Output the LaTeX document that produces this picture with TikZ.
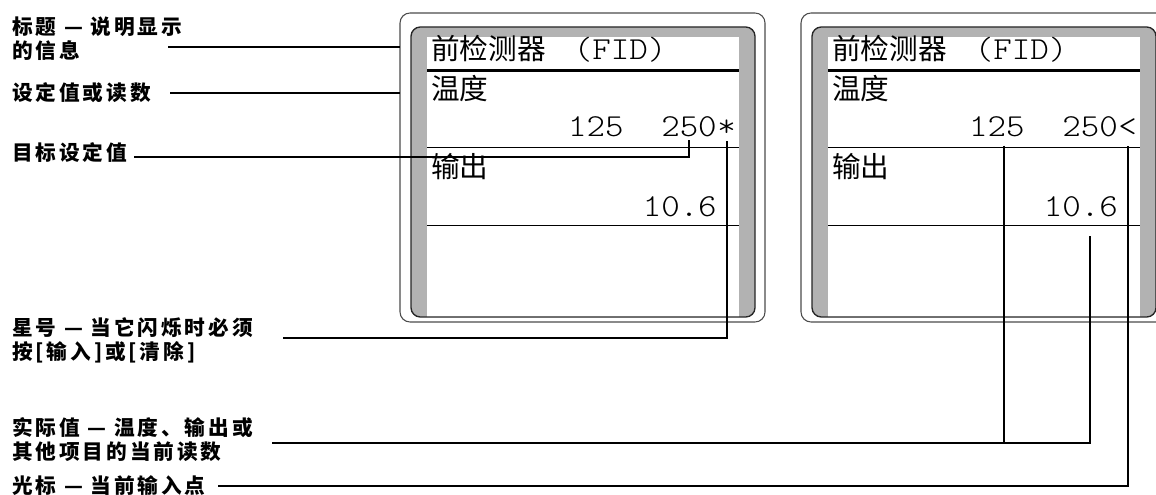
\documentclass[tikz,border=0pt]{standalone}
\usepackage{fontspec}
\newfontfamily\lcdfont{lmmonolt10-regular.otf}[FakeStretch=1.1]
\newfontfamily\cjk{Noto Sans CJK SC}
\newfontfamily\lblfont[LetterSpace=14]{Noto Sans CJK SC}
\usetikzlibrary{positioning}
\begin{document}
\begin{tikzpicture}
		[x=0.75pt,y=-0.75pt,
		lbl/.style={anchor=west,align=left,inner sep=0pt,
			font=\lblfont\bfseries\fontsize{15.5}{18}\selectfont},
		conn/.style={line width=1.5pt},
		mono/.style={inner sep=0pt,font=\lcdfont\fontsize{24}{28}\selectfont},
		scr/.style={inner sep=0pt,font=\cjk\fontsize{21.5}{24}\selectfont},
		caseframe/.style={draw=black!70,line width=0.8pt,rounded corners=7.5pt},
		bezel/.style={draw=black!85,line width=1pt,rounded corners=7pt}
		]
		\useasboundingbox (0,0) rectangle (1156,495);
		\clip (0,0) rectangle (1156,495);
		\foreach \dx/\id/\mk in {0/a/*,401/b/<} {
			\draw[caseframe] (400+\dx,13) rectangle (765+\dx,322);
			\coordinate (frame\id) at (400+\dx,13);
			\fill[black!30,rounded corners=7pt] (411+\dx,27) rectangle (755+\dx,317);
			\fill[white] (427+\dx,37) rectangle (739+\dx,316.5);
			\draw[bezel] (411+\dx,27) rectangle (755+\dx,317);
			\draw[line width=2.25pt] (427+\dx,71) -- (739+\dx,71);
			\draw[line width=0.75pt] (427+\dx,148) -- (739+\dx,148);
			\draw[line width=0.75pt] (427+\dx,226) -- (739+\dx,226);
			\node[scr,anchor=base west] (title\id) at (431+\dx,60)
				{前检测器\hspace{21pt}{\lcdfont\fontsize{24}{28}\selectfont(FID)}};
			\node[scr,anchor=base west] (temp\id) at (431+\dx,100) {温度};
			\node[scr,anchor=base west] (outlbl\id) at (431+\dx,178) {输出};
			\node[mono,anchor=base east] (mk\id) at (736+\dx,137) {\mk};
			\node[mono,anchor=base east] (t250\id) at (mk\id.base west) {250};
			\node[mono,anchor=base east] (t125\id) at ([xshift=-27.9pt]t250\id.base west) {125};
			\node[mono,anchor=base east] (out\id) at (t250\id.base east |- 0,217) {10.6};
		}
		\node[lbl] (title) at (12,38.5) {标题 — 说明显示\\的信息};
		\node[lbl] (setval) at (12,93) {设定值或读数};
		\node[lbl] (target) at (12,153) {目标设定值};
		\node[lbl] (star) at (12,340.5) {星号 — 当它闪烁时必须\\按[输入]或[清除]};
		\node[lbl] (actual) at (12,440) {实际值 — 温度、输出或\\其他项目的当前读数};
		\node[lbl] (cursor) at (12,486) {光标 — 当前输入点};
		\coordinate (c1) at (168,47);
		\coordinate (c2) at (170,93);
		\coordinate (c3) at (134,157);
		\coordinate (c4) at (283,338);
		\coordinate (c5) at (272,443);
		\coordinate (c6) at (218,486);
		\coordinate (vstar) at (mka |- t250a.south);
		\coordinate (vcur) at (mkb |- t250b.south);
		\coordinate (v125) at ([xshift=5.25pt,yshift=-6pt]t125b.south);
		\coordinate (v106) at ([xshift=6.75pt,yshift=-13.5pt]outb.south);
		\draw[conn] (c1) -- (framea |- c1);
		\draw[conn] (c2) -- (framea |- c2);
		\draw[conn] (c3) -| ([yshift=-1.5pt]t250a.south);
		\draw[conn] (c4) -| ([yshift=-2.25pt]vstar);
		\draw[conn] (c5) -| (v106);
		\draw[conn] (v125) -- (v125 |- c5);
		\draw[conn] (c6) -| ([yshift=-6pt]vcur);
	\end{tikzpicture}
\end{document}
